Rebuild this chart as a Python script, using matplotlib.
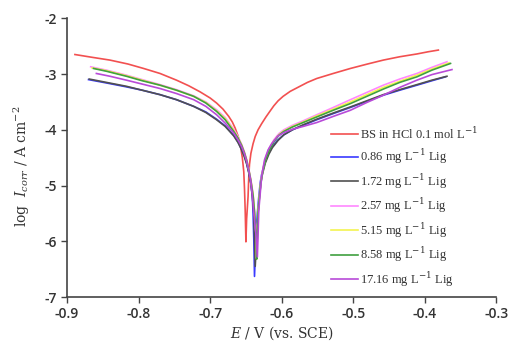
import numpy as np
import matplotlib.pyplot as plt

plt.rcParams['axes.unicode_minus'] = False
plt.rcParams['mathtext.fontset'] = 'dejavuserif'

# Tafel curves: E (V vs. SCE) and log I_corr
bs_E = [-0.889, -0.865, -0.840, -0.815, -0.793, -0.770, -0.747, -0.730, -0.714, -0.700,
        -0.691, -0.682, -0.674, -0.669, -0.665, -0.661, -0.658, -0.655, -0.653, -0.652,
        -0.651, -0.650, -0.649, -0.647, -0.646, -0.645, -0.643, -0.640, -0.637, -0.633,
        -0.628, -0.622, -0.616, -0.611, -0.605, -0.598, -0.588, -0.576, -0.564, -0.551,
        -0.528, -0.504, -0.480, -0.458, -0.435, -0.411, -0.395, -0.381]
bs_log = [-2.65, -2.70, -2.75, -2.82, -2.90, -2.99, -3.11, -3.21, -3.32, -3.43,
          -3.52, -3.63, -3.76, -3.86, -3.97, -4.11, -4.26, -4.50, -4.75, -5.05,
          -5.45, -6.01, -5.60, -5.20, -4.84, -4.62, -4.42, -4.25, -4.12, -4.00,
          -3.89, -3.77, -3.66, -3.57, -3.48, -3.40, -3.31, -3.23, -3.15, -3.08,
          -2.99, -2.90, -2.82, -2.75, -2.69, -2.64, -2.60, -2.57]

blue_E = [-0.870, -0.845, -0.817, -0.795, -0.770, -0.747, -0.723, -0.706, -0.691, -0.679,
          -0.667, -0.661, -0.656, -0.652, -0.649, -0.646, -0.643, -0.641, -0.640, -0.639,
          -0.638, -0.636, -0.634, -0.632, -0.630, -0.628, -0.624, -0.619, -0.614, -0.606,
          -0.597, -0.585, -0.570, -0.551, -0.528, -0.504, -0.481, -0.458, -0.435, -0.411,
          -0.390, -0.371]
blue_log = [-3.10, -3.16, -3.23, -3.29, -3.37, -3.46, -3.58, -3.68, -3.81, -3.93,
            -4.10, -4.22, -4.35, -4.48, -4.60, -4.76, -4.97, -5.20, -5.50, -5.95,
            -6.63, -5.95, -5.50, -5.20, -4.95, -4.80, -4.60, -4.44, -4.32, -4.19,
            -4.09, -4.00, -3.92, -3.82, -3.71, -3.60, -3.49, -3.38, -3.29, -3.20,
            -3.12, -3.05]

black_E = [-0.869, -0.845, -0.817, -0.795, -0.770, -0.747, -0.723, -0.706, -0.691, -0.679,
           -0.667, -0.661, -0.656, -0.652, -0.649, -0.646, -0.643, -0.641, -0.639, -0.638,
           -0.637, -0.635, -0.633, -0.631, -0.629, -0.627, -0.623, -0.618, -0.613, -0.605,
           -0.597, -0.585, -0.570, -0.551, -0.528, -0.504, -0.481, -0.458, -0.435, -0.411,
           -0.390, -0.369]
black_log = [-3.09, -3.15, -3.22, -3.29, -3.37, -3.46, -3.58, -3.69, -3.82, -3.94,
             -4.11, -4.23, -4.36, -4.49, -4.61, -4.77, -4.97, -5.20, -5.50, -5.95,
             -6.45, -5.95, -5.50, -5.20, -4.95, -4.80, -4.60, -4.44, -4.32, -4.19,
             -4.09, -4.00, -3.91, -3.81, -3.70, -3.59, -3.48, -3.37, -3.28, -3.19,
             -3.11, -3.04]

pink_E = [-0.867, -0.845, -0.817, -0.795, -0.770, -0.747, -0.723, -0.706, -0.691, -0.679,
          -0.667, -0.661, -0.656, -0.652, -0.649, -0.646, -0.643, -0.640, -0.638, -0.636,
          -0.635, -0.634, -0.633, -0.631, -0.629, -0.626, -0.622, -0.617, -0.611, -0.604,
          -0.597, -0.585, -0.570, -0.551, -0.528, -0.504, -0.481, -0.458, -0.435, -0.411,
          -0.390, -0.369]
pink_log = [-2.87, -2.93, -3.02, -3.10, -3.19, -3.28, -3.39, -3.50, -3.64, -3.78,
            -3.99, -4.12, -4.26, -4.40, -4.53, -4.70, -4.90, -5.15, -5.45, -5.85,
            -6.30, -5.85, -5.45, -5.15, -4.90, -4.68, -4.48, -4.32, -4.18, -4.07,
            -4.00, -3.92, -3.84, -3.73, -3.60, -3.46, -3.33, -3.20, -3.09, -2.99,
            -2.88, -2.78]

yellow_E = [-0.865, -0.845, -0.817, -0.795, -0.770, -0.747, -0.723, -0.706, -0.691, -0.679,
            -0.667, -0.661, -0.656, -0.652, -0.649, -0.646, -0.643, -0.640, -0.638, -0.636,
            -0.635, -0.634, -0.633, -0.631, -0.629, -0.626, -0.622, -0.617, -0.611, -0.604,
            -0.597, -0.585, -0.570, -0.551, -0.528, -0.504, -0.481, -0.458, -0.435, -0.411,
            -0.390, -0.366]
yellow_log = [-2.89, -2.94, -3.03, -3.11, -3.20, -3.29, -3.40, -3.51, -3.66, -3.80,
              -4.01, -4.14, -4.27, -4.41, -4.54, -4.71, -4.91, -5.17, -5.47, -5.87,
              -6.32, -5.87, -5.47, -5.17, -4.92, -4.70, -4.50, -4.34, -4.20, -4.09,
              -4.02, -3.94, -3.86, -3.75, -3.63, -3.50, -3.37, -3.24, -3.13, -3.02,
              -2.91, -2.80]

green_E = [-0.863, -0.845, -0.817, -0.795, -0.770, -0.747, -0.723, -0.706, -0.691, -0.679,
           -0.667, -0.661, -0.656, -0.652, -0.649, -0.646, -0.643, -0.640, -0.638, -0.636,
           -0.635, -0.634, -0.633, -0.631, -0.629, -0.626, -0.622, -0.617, -0.611, -0.604,
           -0.597, -0.585, -0.570, -0.551, -0.528, -0.504, -0.481, -0.458, -0.435, -0.411,
           -0.390, -0.364]
green_log = [-2.90, -2.95, -3.04, -3.12, -3.20, -3.29, -3.40, -3.52, -3.67, -3.82,
             -4.03, -4.15, -4.28, -4.42, -4.55, -4.72, -4.92, -5.18, -5.48, -5.88,
             -6.32, -5.90, -5.48, -5.18, -4.93, -4.72, -4.52, -4.36, -4.22, -4.10,
             -4.03, -3.95, -3.87, -3.77, -3.65, -3.53, -3.40, -3.27, -3.15, -3.05,
             -2.93, -2.81]

purple_E = [-0.859, -0.840, -0.817, -0.795, -0.770, -0.747, -0.723, -0.706, -0.691, -0.679,
            -0.667, -0.661, -0.656, -0.652, -0.649, -0.646, -0.643, -0.641, -0.639, -0.636,
            -0.634, -0.633, -0.632, -0.630, -0.628, -0.624, -0.619, -0.614, -0.606, -0.597,
            -0.585, -0.570, -0.551, -0.528, -0.504, -0.481, -0.458, -0.435, -0.411, -0.390,
            -0.362]
purple_log = [-2.99, -3.04, -3.11, -3.18, -3.26, -3.35, -3.46, -3.58, -3.73, -3.88,
              -4.06, -4.18, -4.30, -4.43, -4.56, -4.73, -4.93, -5.18, -5.48, -5.88,
              -6.28, -5.88, -5.44, -5.14, -4.84, -4.54, -4.36, -4.25, -4.12, -4.05,
              -3.99, -3.94, -3.87, -3.76, -3.65, -3.51, -3.38, -3.24, -3.11, -3.01,
              -2.92]

labels = ['BS in HCl 0.1 mol L$^{-1}$',
          '0.86 mg L$^{-1}$ Lig',
          '1.72 mg L$^{-1}$ Lig',
          '2.57 mg L$^{-1}$ Lig',
          '5.15 mg L$^{-1}$ Lig',
          '8.58 mg L$^{-1}$ Lig',
          '17.16 mg L$^{-1}$ Lig']
colors = ['#f25050', '#3a3aff', '#505050', '#ff88ff', '#f4f450', '#3fa03f', '#b84ad8']

curves = [(bs_E, bs_log), (blue_E, blue_log), (black_E, black_log), (pink_E, pink_log),
          (yellow_E, yellow_log), (green_E, green_log), (purple_E, purple_log)]

fig = plt.figure(figsize=(5.08, 3.45), dpi=100)
ax = fig.add_axes([0.132, 0.139, 0.845, 0.808])

for (e, lg), lab, c in zip(curves, labels, colors):
    ax.plot(e, lg, color=c, lw=1.2, label=lab)

ax.set_xlim(-0.9, -0.3)
ax.set_ylim(-7, -2)
ax.set_xticks(np.arange(-0.9, -0.25, 0.1))
ax.set_xticklabels(['-0.9', '-0.8', '-0.7', '-0.6', '-0.5', '-0.4', '-0.3'])
ax.set_yticks([-7, -6, -5, -4, -3, -2])
ax.set_yticklabels(['-7', '-6', '-5', '-4', '-3', '-2'])
for lab in ax.get_xticklabels() + ax.get_yticklabels():
    lab.set_family('Open Sans')
    lab.set_fontsize(10)
    lab.set_fontweight('semibold')
    lab.set_color('#333333')
ax.tick_params(direction='out', length=4, width=1, color='#444444')
for s in ['top', 'right']:
    ax.spines[s].set_visible(False)
for s in ['left', 'bottom']:
    ax.spines[s].set_color('#444444')
    ax.spines[s].set_linewidth(1.2)

ax.set_xlabel('$E$ / V (vs. SCE)', family='DejaVu Serif', fontsize=10, color='#333333',
              labelpad=2)
ax.set_ylabel('log  $I_{corr}$ / A cm$^{-2}$', family='DejaVu Serif', fontsize=10,
              color='#333333')
ax.yaxis.set_label_coords(-0.082, 0.47)

leg = ax.legend(loc='upper left', bbox_to_anchor=(0.588, 0.655), frameon=False,
                handlelength=2.2, handletextpad=0.15, labelspacing=0.45,
                prop={'family': 'Liberation Serif', 'size': 9})
for t in leg.get_texts():
    t.set_color('#333333')

fig.savefig('out.png', dpi=100)
